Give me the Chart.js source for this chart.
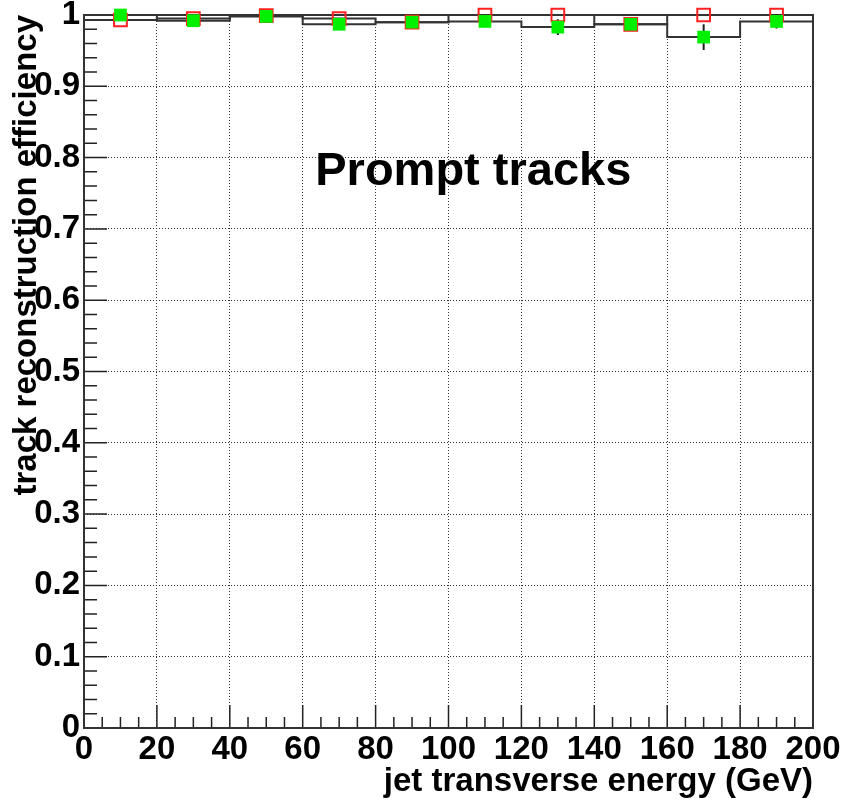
<!DOCTYPE html>
<html lang="en">
<head>
    <meta charset="UTF-8">
    <title>Prompt tracks</title>
    <script src="https://cdn.jsdelivr.net/npm/chart.js"></script>
    <style>
        body { margin: 0; background: #fff; }
    </style>
</head>
<body>
    <canvas id="myChart" width="844" height="805"></canvas>

    <script>
        // bins of jet Et (GeV)
        const binEdges = [0, 20, 40, 60, 80, 100, 120, 140, 160, 180, 200];
        const binCenters = [10, 30, 50, 70, 90, 110, 130, 150, 170, 190];

        // open red squares
        const redEff = [0.993, 0.995, 0.999, 0.995, 0.990, 1.000, 1.000, 0.987, 1.000, 1.000];
        // filled green squares
        const greenEff = [1.000, 0.992, 0.998, 0.987, 0.990, 0.991, 0.983, 0.987, 0.969, 0.991];
        const greenErr = [0.002, 0.004, 0.002, 0.004, 0.004, 0.005, 0.011, 0.006, 0.018, 0.010];

        const xTicks = [0, 20, 40, 60, 80, 100, 120, 140, 160, 180, 200];
        const yTicks = [0, 0.1, 0.2, 0.3, 0.4, 0.5, 0.6, 0.7, 0.8, 0.9, 1];

        const fontFamily = '"Liberation Sans", Arial, Helvetica, sans-serif';

        // histogram outline: flat across each bin, vertical at the edges
        const stepLine = (values) => {
            const pts = [];
            values.forEach((v, i) => {
                pts.push({ x: binEdges[i], y: v });
                pts.push({ x: binEdges[i + 1], y: v });
            });
            return pts;
        };

        // vertical error bars, separated by gaps
        const errorBars = [];
        binCenters.forEach((x, i) => {
            errorBars.push({ x: x, y: greenEff[i] - greenErr[i] });
            errorBars.push({ x: x, y: greenEff[i] + greenErr[i] });
            errorBars.push({ x: x, y: null });
        });

        const pointsOf = (values) => binCenters.map((x, i) => ({ x: x, y: values[i] }));

        // frame, inward tick marks and the label
        const frameAndTicks = {
            id: 'frameAndTicks',
            beforeDatasetsDraw(chart) {
                const { ctx, chartArea: a, scales } = chart;
                const xs = scales.x, ys = scales.y;
                ctx.save();
                ctx.strokeStyle = '#222';
                ctx.lineWidth = 1.5;
                ctx.beginPath();
                for (let v = 0; v <= 200; v += 5) {
                    const px = xs.getPixelForValue(v);
                    const len = v % 20 === 0 ? 23 : 11;
                    ctx.moveTo(px, a.bottom);
                    ctx.lineTo(px, a.bottom - len);
                }
                for (let k = 0; k <= 50; k++) {
                    const py = ys.getPixelForValue(k * 0.02);
                    const len = k % 5 === 0 ? 23 : 13;
                    ctx.moveTo(a.left, py);
                    ctx.lineTo(a.left + len, py);
                }
                ctx.stroke();

                ctx.strokeStyle = '#333';
                ctx.lineWidth = 2;
                ctx.strokeRect(a.left, a.top, a.right - a.left, a.bottom - a.top);

                ctx.fillStyle = '#000';
                ctx.font = 'bold 47px ' + fontFamily;
                ctx.textAlign = 'center';
                ctx.textBaseline = 'alphabetic';
                ctx.fillText('Prompt tracks', xs.getPixelForValue(106.8), ys.getPixelForValue(0.762));
                ctx.restore();
            }
        };

        const ctx = document.getElementById('myChart').getContext('2d');
        const myChart = new Chart(ctx, {
            type: 'scatter',
            data: {
                datasets: [
                    {
                        label: 'green',
                        data: pointsOf(greenEff),
                        pointStyle: 'rect',
                        pointRadius: 9,
                        backgroundColor: '#00f000',
                        borderColor: '#00f000',
                        borderWidth: 0,
                        showLine: false,
                        clip: false,
                        order: 0
                    },
                    {
                        label: 'red',
                        data: pointsOf(redEff),
                        pointStyle: 'rect',
                        pointRadius: 9,
                        backgroundColor: 'rgba(0,0,0,0)',
                        borderColor: '#ff2020',
                        borderWidth: 2,
                        showLine: false,
                        clip: false,
                        order: 1
                    },
                    {
                        label: 'green errors',
                        data: errorBars,
                        showLine: true,
                        spanGaps: false,
                        borderColor: '#222',
                        borderWidth: 2,
                        pointRadius: 0,
                        clip: false,
                        order: 2
                    },
                    {
                        label: 'green hist',
                        data: stepLine(greenEff),
                        showLine: true,
                        borderColor: '#333',
                        borderWidth: 2,
                        pointRadius: 0,
                        order: 3
                    },
                    {
                        label: 'red hist',
                        data: stepLine(redEff),
                        showLine: true,
                        borderColor: '#333',
                        borderWidth: 2,
                        pointRadius: 0,
                        order: 4
                    }
                ]
            },
            options: {
                responsive: false,
                animation: false,
                layout: {
                    padding: { top: 15, right: 31, left: 0, bottom: 0 }
                },
                scales: {
                    x: {
                        type: 'linear',
                        min: 0,
                        max: 200,
                        afterBuildTicks: (scale) => {
                            scale.ticks = xTicks.map(v => ({ value: v }));
                        },
                        afterFit: (scale) => {
                            scale.height = 77;
                            scale.paddingLeft = 0;
                            scale.paddingRight = 0;
                        },
                        ticks: {
                            autoSkip: false,
                            maxRotation: 0,
                            padding: 2,
                            color: '#000',
                            font: { family: fontFamily, size: 33, weight: 'bold' }
                        },
                        grid: {
                            color: '#333',
                            lineWidth: 1,
                            drawTicks: false
                        },
                        border: { display: false, dash: [1, 2] },
                        title: {
                            display: true,
                            text: 'jet transverse energy (GeV)',
                            align: 'end',
                            color: '#000',
                            padding: { top: 0, bottom: 3 },
                            font: { family: fontFamily, size: 33, weight: 'bold' }
                        }
                    },
                    y: {
                        type: 'linear',
                        min: 0,
                        max: 1,
                        afterBuildTicks: (scale) => {
                            scale.ticks = yTicks.map(v => ({ value: v }));
                        },
                        afterFit: (scale) => {
                            scale.width = 84;
                            scale.paddingTop = 0;
                            scale.paddingBottom = 0;
                        },
                        ticks: {
                            padding: 4,
                            color: '#000',
                            font: { family: fontFamily, size: 33, weight: 'bold' },
                            callback: (v) => (v === 0 ? '0' : v === 1 ? '1' : v.toFixed(1))
                        },
                        grid: {
                            color: '#333',
                            lineWidth: 1,
                            drawTicks: false
                        },
                        border: { display: false, dash: [1, 2] },
                        title: {
                            display: true,
                            text: 'track reconstruction efficiency',
                            align: 'end',
                            color: '#000',
                            padding: { top: 7, bottom: 0 },
                            font: { family: fontFamily, size: 33, weight: 'bold' }
                        }
                    }
                },
                plugins: {
                    legend: { display: false },
                    tooltip: { enabled: false }
                }
            },
            plugins: [frameAndTicks]
        });
    </script>
</body>
</html>
